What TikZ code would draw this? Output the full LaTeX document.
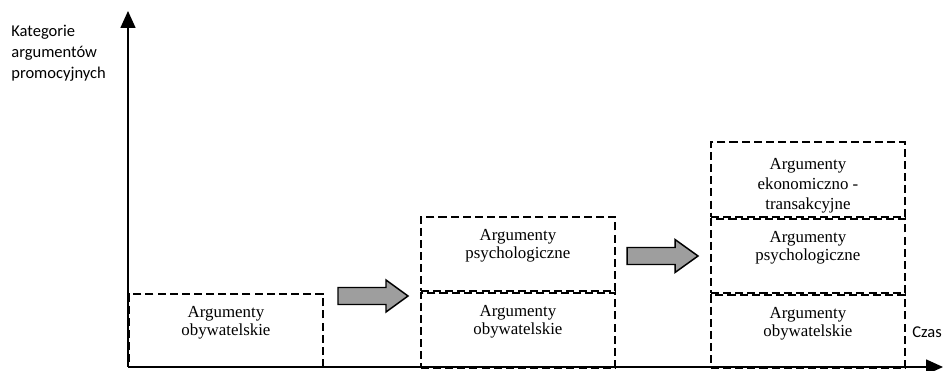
\documentclass[tikz,border=0pt]{standalone}
\usepackage{fontspec}
\setmainfont{Liberation Serif}
\newfontfamily\labelfont{Carlito}
\usetikzlibrary{arrows.meta}
\begin{document}
\begin{tikzpicture}[x=0.02cm,y=-0.02cm,
  catbox/.style={draw,dash pattern=on 4.6pt off 2.3pt,line width=1.05pt,
    minimum width=194*0.02cm,inner sep=0pt},
  cattext/.style={anchor=north,inner sep=0pt,align=center,yshift=-13*0.02cm,
    font=\fontsize{9.6}{10.4}\selectfont},
  axis/.style={line width=0.9pt,-{Triangle[width=0.3cm,length=0.34cm]}},
  blockarrow/.style={draw,line width=0.85pt,fill=black!38,line join=miter},
  axislabel/.style={font=\labelfont\fontsize{9.4}{11.9}\selectfont,inner sep=0pt}]
\useasboundingbox (0,0) rectangle (944,371);

% axes
\coordinate (origin) at (128,367);
\coordinate (ytop) at (128,11);
\coordinate (xend) at (943,367);
\draw[axis] (origin) -- (ytop);
\draw[axis] (origin) -- (xend);

\node[axislabel,anchor=north west,align=left] (ylab) at (11,25)
  {Kategorie\\argumentów\\promocyjnych};
\node[axislabel,anchor=west] (xlab) at (912,332) {Czas};

% stage 1
\node[catbox,minimum height=73*0.02cm,anchor=north west] (a1) at (128,293) {};
\node[cattext] (a1t) at (a1.north) {Argumenty\\obywatelskie};

% stage 2
\node[catbox,minimum height=75*0.02cm,anchor=north west] (b1) at (420,292) {};
\node[catbox,minimum height=74*0.02cm,anchor=south west] (b2) at (b1.north west) {};
\node[cattext] (b1t) at (b1.north) {Argumenty\\obywatelskie};
\node[cattext] (b2t) at (b2.north) {Argumenty\\psychologiczne};

% stage 3
\node[catbox,minimum height=73*0.02cm,anchor=north west] (c1) at (710,294) {};
\node[catbox,minimum height=74*0.02cm,anchor=south west] (c2) at (c1.north west) {};
\node[catbox,minimum height=75*0.02cm,anchor=south west] (c3) at (c2.north west) {};
\node[cattext] (c1t) at (c1.north) {Argumenty\\obywatelskie};
\node[cattext] (c2t) at (c2.north) {Argumenty\\psychologiczne};
\node[cattext,yshift=-4*0.02cm,font=\fontsize{9.6}{11.2}\selectfont] (c3t) at (c3.north)
  {Argumenty\\ekonomiczno -\\transakcyjne};

% transition arrows
\draw[blockarrow] (338,287.5) -- (386,287.5) -- (386,280) -- (408,296)
  -- (386,312) -- (386,304.5) -- (338,304.5) -- cycle;
\draw[blockarrow] (627,247.5) -- (675,247.5) -- (675,239.5) -- (698,256)
  -- (675,272.5) -- (675,264.5) -- (627,264.5) -- cycle;
\end{tikzpicture}
\end{document}
